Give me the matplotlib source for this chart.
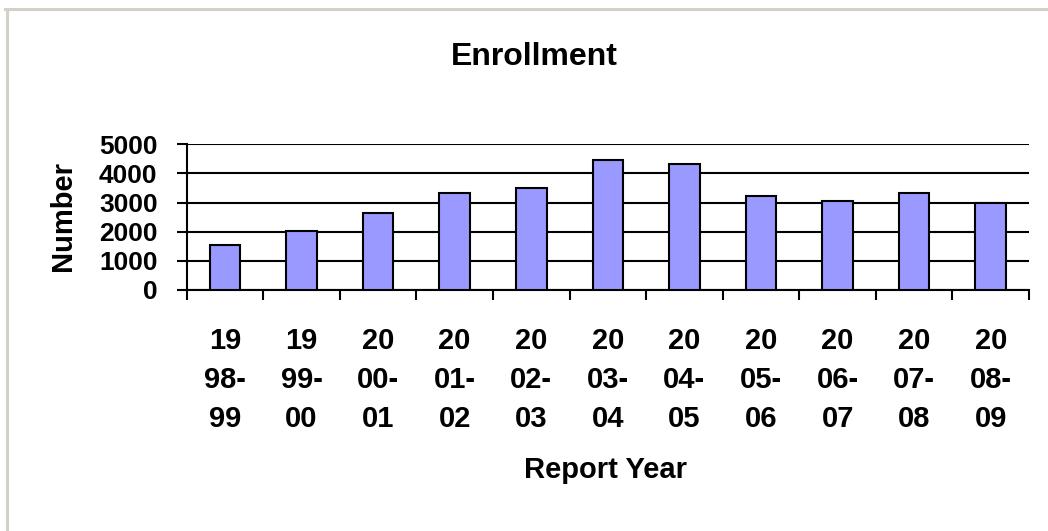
import matplotlib
matplotlib.use("Agg")
import matplotlib.pyplot as plt
from matplotlib.lines import Line2D
import numpy as np

plt.rcParams['font.family'] = ['Liberation Sans', 'DejaVu Sans']
plt.rcParams['font.weight'] = 'bold'

years = ["19\n98-\n99", "19\n99-\n00", "20\n00-\n01", "20\n01-\n02", "20\n02-\n03",
         "20\n03-\n04", "20\n04-\n05", "20\n05-\n06", "20\n06-\n07", "20\n07-\n08",
         "20\n08-\n09"]
enrollment = [1540, 2020, 2630, 3320, 3500, 4450, 4335, 3240, 3040, 3320, 2975]
yticks = [0, 1000, 2000, 3000, 4000, 5000]

fig = plt.figure(figsize=(10.48, 5.31), dpi=100)
ax = fig.add_axes([0.1781, 0.4539, 0.8038, 0.2744])

x = np.arange(len(years))
ax.bar(x, enrollment, width=0.4, color='#9999FF', edgecolor='black', linewidth=1.5, zorder=3)

ax.set_xlim(-0.5, len(years) - 0.5)
ax.set_ylim(0, 5000)
ax.set_yticks(yticks)
ax.set_yticklabels([str(v) for v in yticks], fontsize=19, fontweight='bold')
ax.yaxis.grid(True, color='black', linewidth=1.5, zorder=0)
ax.set_axisbelow(True)

# category labels at centres, tick marks between categories
ax.set_xticks(x)
ax.set_xticklabels(years, fontsize=21, fontweight='bold', linespacing=1.5)
ax.set_xticks(np.arange(len(years) + 1) - 0.5, minor=True)
ax.tick_params(axis='x', which='major', length=0, pad=27)
ax.tick_params(axis='x', which='minor', length=7, width=1.5, direction='out')
ax.tick_params(axis='y', length=7, width=1.5, direction='out', pad=14)

for s in ['top', 'right']:
    ax.spines[s].set_visible(False)
for s in ['left', 'bottom']:
    ax.spines[s].set_color('black')
    ax.spines[s].set_linewidth(1.5)

fig.text(534 / 1048, 1 - 57 / 531, "Enrollment", ha='center', va='center',
         fontsize=23, fontweight='bold')
fig.text(606 / 1048, 1 - 470 / 531, "Report Year", ha='center', va='center',
         fontsize=21, fontweight='bold')
fig.text(63 / 1048, 1 - 216 / 531, "Number", ha='center', va='center',
         rotation=90, fontsize=21, fontweight='bold')

# grey frame at top and left
border = '#D4D0C8'
fig.add_artist(Line2D([6.5 / 1048, 6.5 / 1048], [0, 1 - 8.5 / 531], color=border,
                      linewidth=2.2, transform=fig.transFigure))
fig.add_artist(Line2D([5 / 1048, 1], [1 - 8.5 / 531, 1 - 8.5 / 531], color=border,
                      linewidth=2.2, transform=fig.transFigure))

fig.savefig("out.png", dpi=100)
